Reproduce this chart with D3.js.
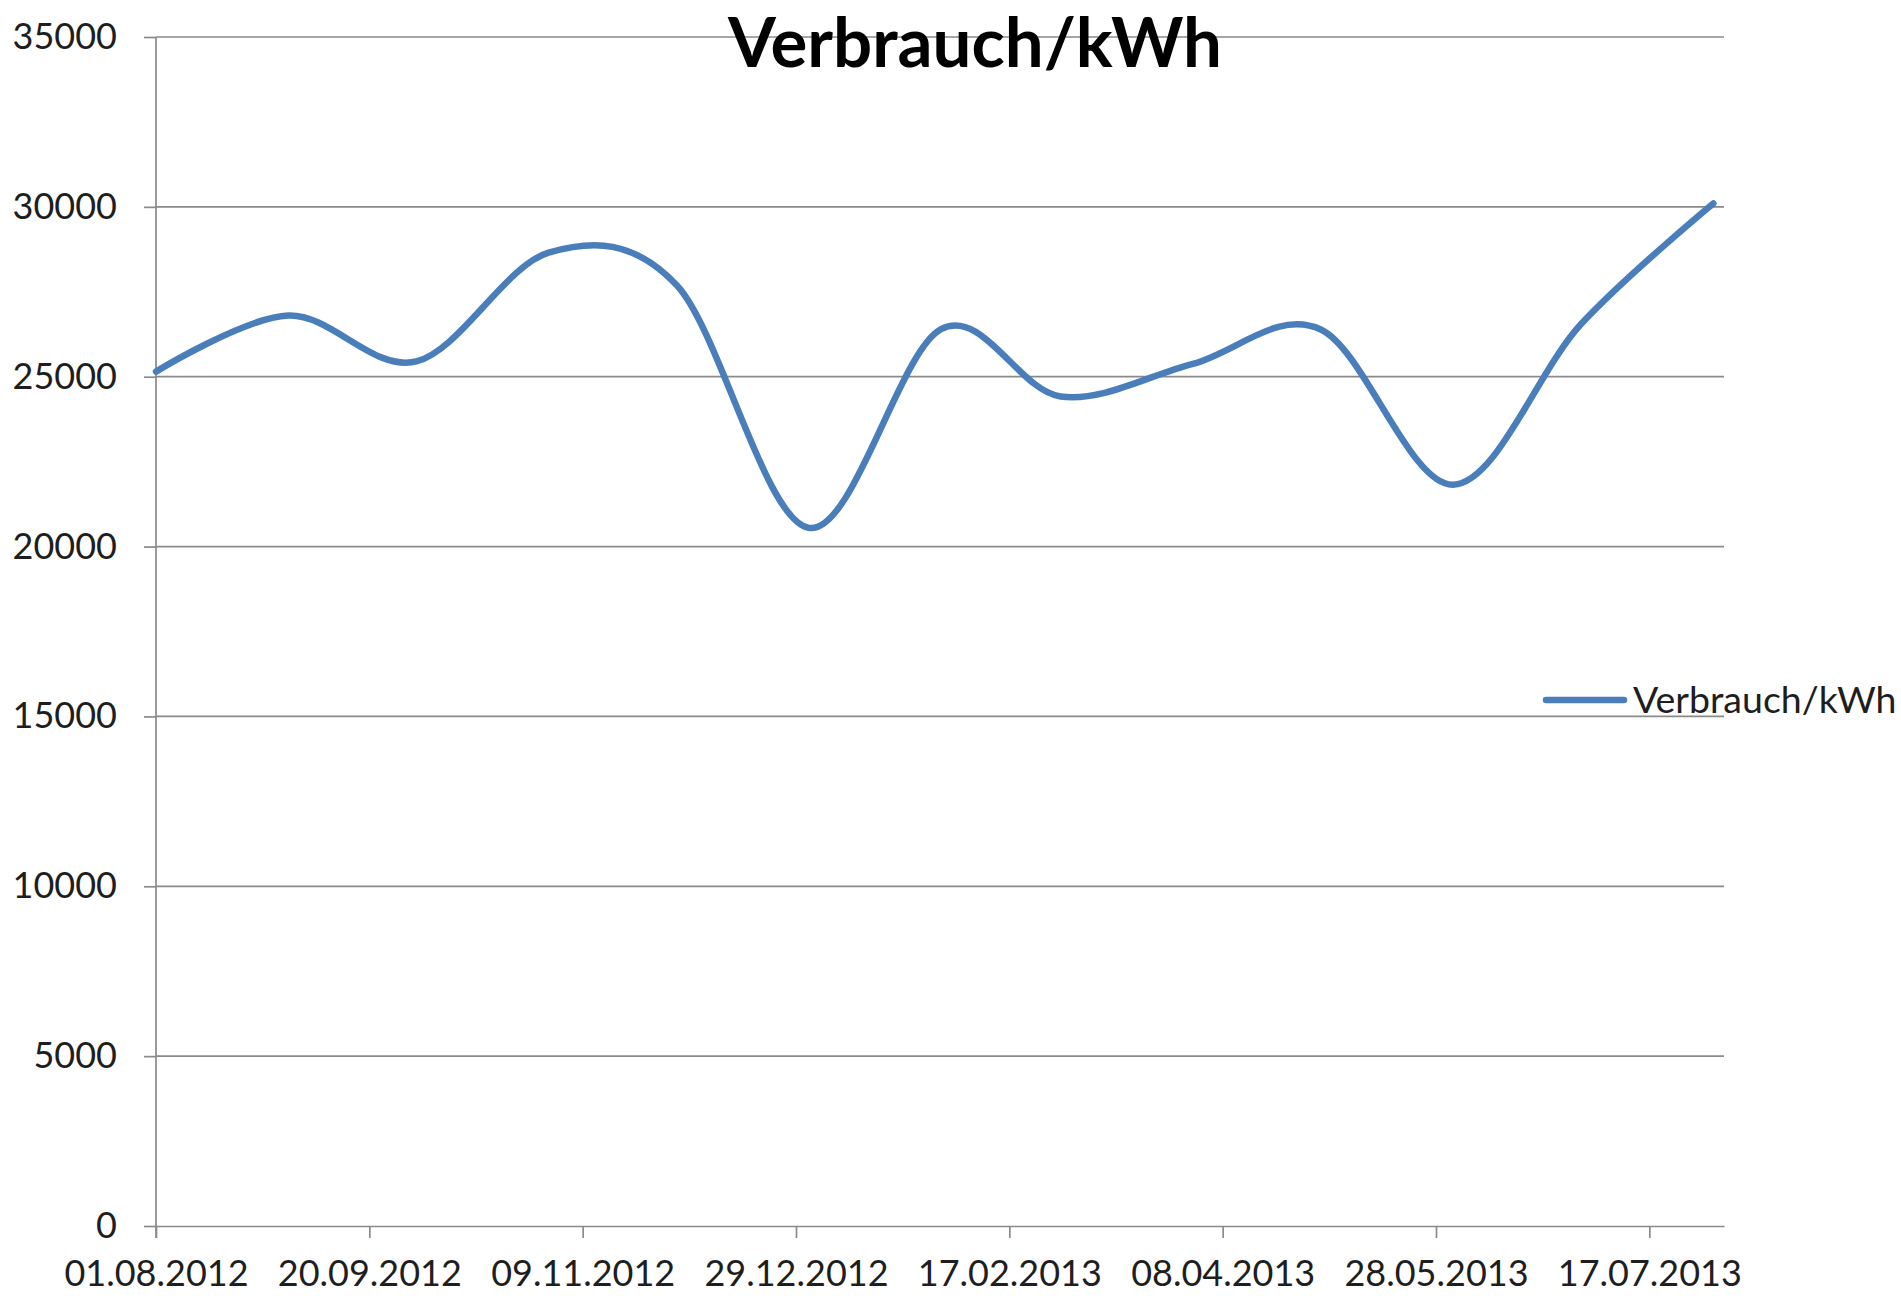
<!DOCTYPE html>
<html>
<head>
<meta charset="utf-8">
<script src="https://cdn.jsdelivr.net/npm/d3@7"></script>
<style>
  body { margin: 0; background: #fff; }
  svg text { font-family: Lato, "Open Sans", sans-serif; fill: #1e1e1e; }
</style>
</head>
<body>
<div id="chart"></div>
<script>

// data (one reading per month)
var dates = ["01.08.2012", "01.09.2012", "01.10.2012", "01.11.2012", "01.12.2012", "01.01.2013",
             "01.02.2013", "01.03.2013", "01.04.2013", "01.05.2013", "01.06.2013", "01.07.2013", "01.08.2013"];
var verbrauch = [25150, 26800, 25450, 28650, 27700, 20550, 26400, 24420, 25380, 26390, 21820, 26550, 30100];

var xTickLabels = ["01.08.2012", "20.09.2012", "09.11.2012", "29.12.2012",
                   "17.02.2013", "08.04.2013", "28.05.2013", "17.07.2013"];
var yTicks = [0, 5000, 10000, 15000, 20000, 25000, 30000, 35000];
var axisRange = ["01.08.2012", "03.08.2013"];

var chartTitle = "Verbrauch/kWh";
var seriesName = "Verbrauch/kWh";

var W = 1901, H = 1296;
var margin = {top: 37, right: 177, bottom: 70, left: 156},
    width = W - margin.left - margin.right,
    height = H - margin.top - margin.bottom;

var parse = d3.timeParse("%d.%m.%Y");
var fmt = d3.timeFormat("%d.%m.%Y");

var data = dates.map(function(d, i) { return {date: parse(d), value: verbrauch[i]}; });

var svg = d3.select("#chart")
  .append("svg")
    .attr("width", W)
    .attr("height", H)
    .style("background", "#fff");

var g = svg.append("g")
    .attr("transform", "translate(" + margin.left + "," + margin.top + ")");

var x = d3.scaleTime()
  .domain([parse(axisRange[0]), d3.timeHour.offset(parse(axisRange[1]), 12)])
  .range([0, width]);

var y = d3.scaleLinear()
  .domain([0, 35000])
  .range([height, 0]);

// gridlines
g.append("g")
  .selectAll("line")
  .data(yTicks.filter(function(d) { return d > 0; }))
  .enter()
  .append("line")
    .attr("x1", 0)
    .attr("x2", width)
    .attr("y1", function(d) { return y(d); })
    .attr("y2", function(d) { return y(d); })
    .attr("stroke", "#8a8a8a")
    .attr("stroke-width", 1.7);

// y axis
var yAxis = g.append("g")
  .call(d3.axisLeft(y).tickValues(yTicks).tickSize(12).tickPadding(27).tickFormat(d3.format("d")));

// x axis
var xAxis = g.append("g")
  .attr("transform", "translate(0," + height + ")")
  .call(d3.axisBottom(x)
    .tickValues(xTickLabels.map(parse))
    .tickSize(12)
    .tickSizeOuter(0)
    .tickPadding(22)
    .tickFormat(fmt));

[yAxis, xAxis].forEach(function(a) {
  a.selectAll("path, line").attr("stroke", "#8a8a8a").attr("stroke-width", 1.7);
  a.selectAll("text").attr("fill", "#1e1e1e").style("font-size", "36px");
});
// y axis line continues down past the x axis like the first x tick
yAxis.select("path").attr("d", "M0,0V" + (height + 12));

// the series
var line = d3.line()
  .x(function(d) { return x(d.date); })
  .y(function(d) { return y(d.value); })
  .curve(d3.curveCardinal.tension(0));

g.append("path")
  .datum(data)
  .attr("fill", "none")
  .attr("stroke", "#4a7ebb")
  .attr("stroke-width", 6.5)
  .attr("stroke-linecap", "round")
  .attr("stroke-linejoin", "round")
  .attr("d", line);

// title
svg.append("text")
  .attr("x", 975)
  .attr("y", 67)
  .attr("text-anchor", "middle")
  .style("font-size", "69px")
  .style("font-weight", "bold")
  .style("fill", "#000")
  .text(chartTitle);

// legend
var legend = svg.append("g").attr("transform", "translate(1546,700)");
legend.append("line")
  .attr("x1", 0).attr("x2", 78)
  .attr("stroke", "#4a7ebb")
  .attr("stroke-width", 6.5)
  .attr("stroke-linecap", "round");
legend.append("text")
  .attr("x", 87)
  .attr("y", 12.5)
  .style("font-size", "37.5px")
  .text(seriesName);

</script>
</body>
</html>
